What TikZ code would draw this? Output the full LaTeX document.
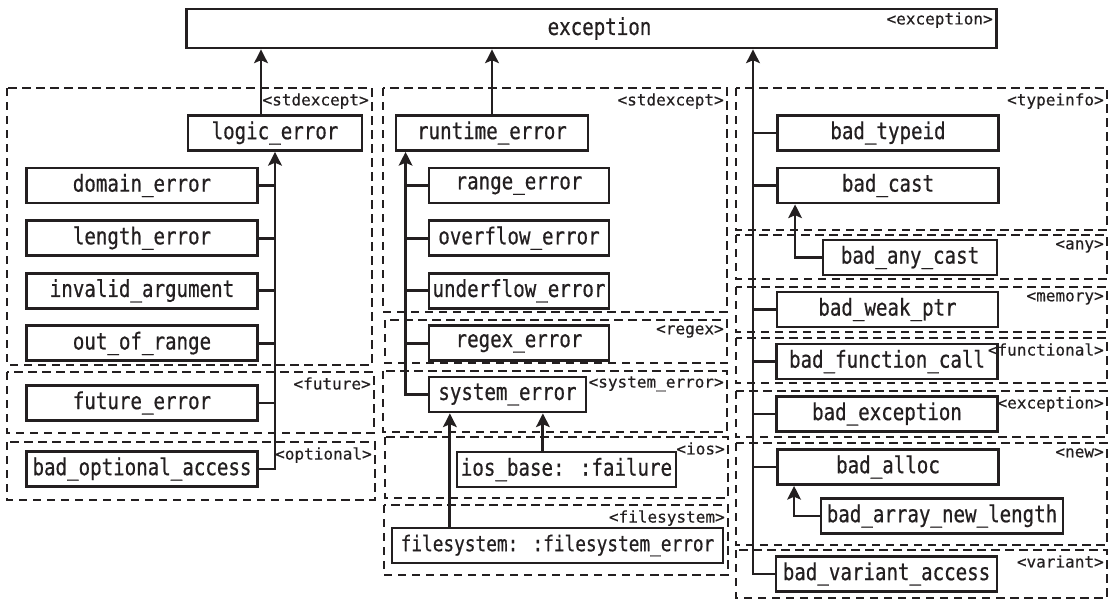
\documentclass[tikz,border=0pt]{standalone}
\usepackage{fontspec}
\setmainfont{DejaVu Sans}
\newfontfamily\boxfont[FakeStretch=0.82,FakeBold=0.6]{DejaVu Sans Mono}
\newfontfamily\tagfont[FakeBold=0.4]{DejaVu Sans Mono}
\usetikzlibrary{arrows.meta,positioning}
\definecolor{ink}{HTML}{231F20}
\tikzset{
  >=Stealth,
  cls/.style={
    rectangle, draw=ink, line width=2pt, minimum width=#1,
    minimum height=0.875cm, inner sep=0pt,
    font=\boxfont\fontsize{16.6}{18}\selectfont, text=ink
  },
  cls/.default=5.525cm,
  pkg/.style={draw=ink, line width=1.7pt, dash pattern=on 0.21cm off 0.14cm},
  pkglabel/.style={inner sep=0pt, font=\tagfont\fontsize{11.4}{13}\selectfont, text=ink},
  arrow/.style={-{Stealth[length=3.4mm,width=3.4mm,inset=0.7mm]}, line width=2pt, draw=ink},
  link/.style={line width=2pt, draw=ink}
}
\newcommand{\pkgbox}[6]{%
  \draw[pkg] (#2,#3) rectangle (#4,#5);
  \node[pkglabel, anchor=north east] (#1) at (#4-3,#3+5) {#6};
}

\begin{document}
\begin{tikzpicture}[x=0.025cm, y=-0.025cm, node distance=0.37cm]
\useasboundingbox (0,0) rectangle (1111,600);
% header groups
\pkgbox{lstd}{7}{88}{372}{365}{<stdexcept>}
\pkgbox{lfut}{7}{372}{374}{433}{<future>}
\pkgbox{lopt}{7}{442}{375}{500}{<optional>}
\pkgbox{mstd}{383}{88}{727}{312}{<stdexcept>}
\pkgbox{mreg}{385}{320}{727}{363}{<regex>}
\pkgbox{msys}{383}{371}{727}{432}{<system\_error>}
\pkgbox{mios}{385}{437}{728}{498}{<ios>}
\pkgbox{mfs}{384}{505}{728}{575}{<filesystem>}
\pkgbox{rtyp}{736}{88}{1107}{230}{<typeinfo>}
\pkgbox{rany}{736}{235}{1107}{279}{<any>}
\pkgbox{rmem}{736}{287}{1107}{332}{<memory>}
\pkgbox{rfun}{736}{338}{1107}{383}{<functional>}
\pkgbox{rexc}{736}{391}{1107}{437}{<exception>}
\pkgbox{rnew}{736}{443}{1107}{545}{<new>}
\pkgbox{rvar}{736}{550}{1107}{598}{<variant>}

% root
\node[cls=20.225cm, minimum height=0.975cm] (exc) at (591.5,28.5) {\hspace{0.4cm}exception};
\node[pkglabel, anchor=north east] (exctag) at (993,12) {<exception>};

% logic_error branch
\node[cls=4.35cm] (logic) at (275,133) {logic\_error};
\node[cls=5.76cm] (domain) at (142,185.5) {domain\_error};
\node[cls=5.76cm, below=of domain] (length) {length\_error};
\node[cls=5.76cm, below=of length] (invalid) {invalid\_argument};
\node[cls=5.76cm, below=of invalid] (outrange) {out\_of\_range};
\node[cls=5.76cm] (future) at (142,403) {future\_error};
\node[cls=5.76cm] (badopt) at (142,469) {bad\_optional\_access};

% runtime_error branch
\node[cls=4.8cm] (runtime) at (492,133) {runtime\_error};
\node[cls=4.5cm] (range) at (519,185.5) {range\_error};
\node[cls=4.5cm, below=of range] (overflow) {overflow\_error};
\node[cls=4.5cm, below=of overflow] (underflow) {underflow\_error};
\node[cls=4.5cm, below=of underflow] (regex) {regex\_error};
\node[cls=3.925cm] (system) at (507.5,394.5) {system\_error};
\node[cls=5.475cm] (ios) at (566.5,469.5) {ios\_base: :failure};
\node[cls=8.275cm, font=\boxfont\fontsize{15.4}{17}\selectfont] (fs) at (557.5,545.5) {filesystem: :filesystem\_error};

% right column
\node[cls] (typeid) at (888,133) {bad\_typeid};
\node[cls] (cast) at (888,185.5) {bad\_cast};
\node[cls=4.35cm] (anycast) at (910,257.5) {bad\_any\_cast};
\node[cls] (weak) at (887.5,309.5) {bad\_weak\_ptr};
\node[cls] (func) at (887,361.5) {bad\_function\_call};
\node[cls] (badexc) at (887,414) {bad\_exception};
\node[cls] (alloc) at (888,467) {bad\_alloc};
\node[cls=6.05cm] (arraynew) at (942,516) {bad\_array\_new\_length};
\node[cls] (variant) at (886.5,574) {bad\_variant\_access};

% links to exception
\draw[arrow] ([xshift=-0.35cm]logic.north) -- ([xshift=-0.35cm]logic.north |- exc.south);
\draw[arrow] (runtime.north) -- (runtime.north |- exc.south);
\coordinate (rtrunk) at (753,0);
\draw[arrow] (variant.west) -| (rtrunk |- exc.south);
\foreach \n in {typeid,cast,weak,func,badexc,alloc}
  \draw[link] (\n.west) -- (\n.west -| rtrunk);

% left trunk
\draw[arrow] (badopt.east) -| (logic.south);
\foreach \n in {domain,length,invalid,outrange,future}
  \draw[link] (\n.east) -- (\n.east -| logic.south);

% middle trunk
\coordinate (mtrunk) at ([xshift=0.275cm]runtime.south west);
\draw[arrow] (system.west) -| (mtrunk);
\foreach \n in {range,overflow,underflow,regex}
  \draw[link] (\n.west) -- (\n.west -| mtrunk);
\draw[arrow] ([xshift=-0.59cm]ios.north) -- ([xshift=-0.59cm]ios.north |- system.south);
\draw[arrow] ([xshift=-2.69cm]fs.north) -- ([xshift=-2.69cm]fs.north |- system.south);

% elbows
\draw[arrow] (anycast.west) -| ([xshift=0.475cm]cast.south west);
\draw[arrow] (arraynew.west) -| ([xshift=0.45cm]alloc.south west);
\end{tikzpicture}
\end{document}
